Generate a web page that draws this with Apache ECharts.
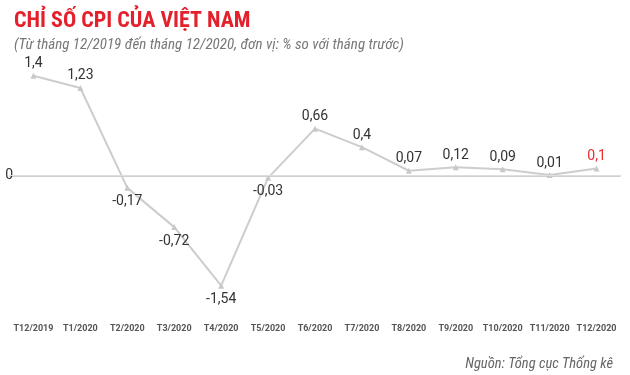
<!DOCTYPE html>
<html><head><meta charset="utf-8">
<script src="https://cdn.jsdelivr.net/npm/echarts@6/dist/echarts.min.js"></script>
<style>html,body{margin:0;padding:0;background:#fff}#c{width:630px;height:375px}</style>
</head><body><div id="c"></div>
<script>
const categories = ['T12/2019','T1/2020','T2/2020','T3/2020','T4/2020','T5/2020','T6/2020','T7/2020','T8/2020','T9/2020','T10/2020','T11/2020','T12/2020'];
const cpiValues = [1.4, 1.23, -0.17, -0.72, -1.54, -0.03, 0.66, 0.4, 0.07, 0.12, 0.09, 0.01, 0.1];
const labelBelow = [false, false, true, true, true, true, false, false, false, false, false, false, false];
const titleText = 'CHỈ SỐ CPI CỦA VIỆT NAM';
const subtitleText = '(Từ tháng 12/2019 đến tháng 12/2020, đơn vị: % so với tháng trước)';
const sourceText = 'Nguồn: Tổng cục Thống kê';

const COND = '"Roboto Condensed","Liberation Sans Narrow","DejaVu Sans Condensed",Roboto,sans-serif';
const chart = echarts.init(document.getElementById('c'), null, {renderer: 'canvas'});
const seriesData = cpiValues.map((v, i) => {
  const last = i === cpiValues.length - 1;
  return {
    value: v,
    label: {
      position: labelBelow[i] ? 'bottom' : 'top',
      distance: labelBelow[i] ? 4 : 2,
      color: last ? '#ee2a2f' : '#333'
    }
  };
});
chart.setOption({
  animation: false,
  backgroundColor: '#fff',
  title: [
    {text: titleText, left: 9, top: 5,
     textStyle: {color: '#e3202b', fontSize: 22, fontWeight: 'bold', fontFamily: COND}},
    {text: subtitleText, left: 9, top: 33,
     textStyle: {color: '#777', fontSize: 15, fontStyle: 'italic', fontWeight: 'normal', fontFamily: COND}},
    {text: sourceText, right: 12, top: 352,
     textStyle: {color: '#666', fontSize: 14.5, fontStyle: 'italic', fontWeight: 'normal', fontFamily: COND}}
  ],
  grid: {left: 10, right: 10, top: 33, bottom: 28, containLabel: false},
  xAxis: {
    type: 'category', data: categories, boundaryGap: true,
    axisLine: {show: true, lineStyle: {color: '#d0d0d0', width: 2}},
    axisTick: {show: false},
    axisLabel: {inside: true, margin: 14, color: '#555', fontSize: 9, fontWeight: 'bold', fontFamily: 'Roboto, sans-serif', interval: 0}
  },
  yAxis: {
    type: 'value', min: -2.4, max: 2.0, interval: 0.4, offset: -8,
    axisLine: {show: false}, axisTick: {show: false}, splitLine: {show: false},
    axisLabel: {margin: 5, color: '#333', fontSize: 14, fontFamily: 'Roboto, sans-serif',
      formatter: v => Math.abs(v) < 1e-9 ? '0' : ''}
  },
  series: [{
    type: 'line', data: seriesData,
    lineStyle: {color: '#cdcdcd', width: 2},
    itemStyle: {color: '#c8c8c8'},
    symbol: 'triangle', symbolSize: 6, showSymbol: true,
    label: {show: true, fontSize: 14, fontFamily: 'Roboto, sans-serif',
      formatter: p => String(p.value).replace('.', ',')},
    markLine: {
      silent: true, symbol: 'none', animation: false,
      lineStyle: {color: '#dedede', width: 1, type: 'solid'},
      label: {show: false},
      data: [{yAxis: 0}]
    },
    z: 3
  }]
});
</script></body></html>
